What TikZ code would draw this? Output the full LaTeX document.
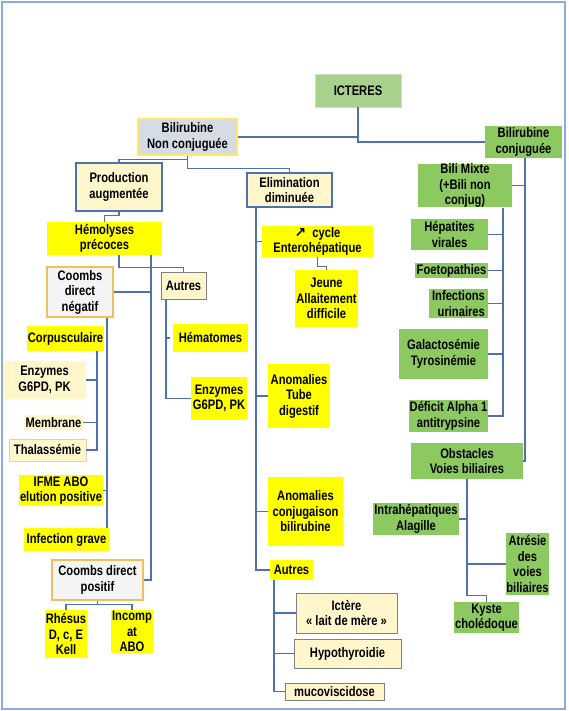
\documentclass[tikz,border=0pt]{standalone}
\usepackage{fontspec}
\setmainfont{Liberation Sans}[FakeStretch=0.81]
\newfontfamily\arrowfont{DejaVu Sans}
\usepackage{tikz}
\usetikzlibrary{calc}
\definecolor{linkblue}{RGB}{79,113,175}
\definecolor{framecol}{RGB}{143,170,220}
\definecolor{jaune}{RGB}{255,255,0}
\definecolor{creme}{RGB}{255,246,204}
\definecolor{vert}{RGB}{140,201,96}
\definecolor{vertclair}{RGB}{169,209,142}
\definecolor{grisbleu}{RGB}{214,220,229}
\definecolor{grisclair}{RGB}{244,244,244}
\definecolor{orbord}{RGB}{240,192,90}
\tikzset{
  every node/.style={font=\bfseries\fontsize{13.8}{15.5}\selectfont, align=center, inner sep=0pt},
  yellowbox/.style={fill=jaune},
  greenbox/.style={fill=vert},
  cremebox/.style={fill=creme},
  levelbox/.style={fill=creme, draw=linkblue, line width=1.2pt},
  greybox/.style={fill=creme, draw=gray, line width=1pt},
  coombsbox/.style={fill=grisclair, draw=orbord, line width=1.2pt},
  link/.style={draw=linkblue, line width=1.1pt}
}

\begin{document}
\begin{tikzpicture}[x=1pt,y=-1pt]
    \useasboundingbox (0,0) rectangle (568,711);
    \draw[framecol,line width=1.5pt] (2,2) rectangle (565,709);

    % top
    \node[fill=vertclair, draw=vertclair!60, minimum width=86pt, minimum height=33pt] (ict) at (358,90.5) {ICTERES};
    \node[fill=grisbleu, draw=jaune!70!orange!60, line width=1.2pt, minimum width=99pt, minimum height=36pt] (nc) at (187.5,137) {Bilirubine\\Non conjuguée};
    \node[greenbox, minimum width=77pt, minimum height=32pt] (bc) at (523.5,142) {Bilirubine\\conjuguée};

    % bilirubine non conjuguee
    \node[levelbox, minimum width=86pt, minimum height=48pt] (prod) at (119,187) {Production\\augmentée};
    \node[levelbox, minimum width=85pt, minimum height=34pt] (elim) at (289.5,190) {Elimination\\diminuée};
    \node[yellowbox, minimum width=115pt, minimum height=33pt] (hem) at (104.5,238.5) {Hémolyses\\précoces};
    \node[coombsbox, minimum width=66pt, minimum height=50pt] (cdn) at (80,292) {Coombs\\direct\\négatif};
    \node[greybox, minimum width=45pt, minimum height=27pt] (autg) at (183.5,285.5) {Autres};
    \node[yellowbox, minimum width=77pt, minimum height=25pt] (corp) at (65.5,338.5) {Corpusculaire};
    \node[cremebox, minimum width=83pt, minimum height=38pt] (enzg) at (44.5,380) {Enzymes\\G6PD, PK};
    \node[cremebox, minimum width=59pt, minimum height=15pt] (memb) at (53.5,422.5) {Membrane};
    \node[cremebox, draw=creme!70!gray, minimum width=77pt, minimum height=22pt] (thal) at (47.5,450) {Thalassémie};
    \node[yellowbox, minimum width=84pt, minimum height=31pt] (ifme) at (61,490.5) {IFME ABO\\elution positive};
    \node[yellowbox, minimum width=85pt, minimum height=23pt] (ig) at (66.5,539.5) {Infection grave};
    \node[coombsbox, minimum width=91pt, minimum height=40pt] (cdp) at (97.5,580) {Coombs direct\\positif};
    \node[yellowbox, minimum width=42pt, minimum height=48pt] (rh) at (66,634) {Rhésus\\D, c, E\\Kell};
    \node[yellowbox, minimum width=42pt, minimum height=43pt] (inc) at (132,631.5) {Incomp\\at\\ABO};
    \node[yellowbox, minimum width=75pt, minimum height=28pt] (hemat) at (210.5,338) {Hématomes};
    \node[yellowbox, minimum width=56pt, minimum height=43pt] (enzm) at (219,398.5) {Enzymes\\G6PD, PK};

    \node[yellowbox, minimum width=111pt, minimum height=31pt] (cyc) at (317.5,241.5) {{\arrowfont\char"2197}\ \ cycle\\Enterohépatique};
    \node[yellowbox, minimum width=63pt, minimum height=57pt] (jeune) at (326.5,298.5) {Jeune\\Allaitement\\difficile};
    \node[yellowbox, minimum width=62pt, minimum height=64pt] (atd) at (299,396) {Anomalies\\Tube\\digestif};
    \node[yellowbox, minimum width=75pt, minimum height=69pt] (acb) at (305.5,511.5) {Anomalies\\conjugaison\\bilirubine};
    \node[yellowbox, minimum width=43pt, minimum height=20pt] (autd) at (291.5,570) {Autres};
    \node[greybox, minimum width=101pt, minimum height=40pt] (lait) at (346.5,613) {Ictère\\« lait de mère »};
    \node[greybox, minimum width=107pt, minimum height=29pt] (hypo) at (347.5,653.5) {Hypothyroidie};
    \node[greybox, minimum width=99pt, minimum height=17pt] (muco) at (334.5,691.5) {mucoviscidose};

    % bilirubine conjuguee
    \node[greenbox, minimum width=94pt, minimum height=43pt] (bm) at (465,185.5) {Bili Mixte\\(+Bili non\\conjug)};
    \node[greenbox, minimum width=77pt, minimum height=31pt] (hep) at (449.5,234.5) {Hépatites\\virales};
    \node[greenbox, minimum width=73pt, minimum height=15pt] (foet) at (451.5,270.5) {Foetopathies};
    \node[greenbox, minimum width=59pt, minimum height=29pt, align=right] (inf) at (458.5,303.5) {Infections\\urinaires};
    \node[greenbox, minimum width=89pt, minimum height=50pt] (gal) at (443.5,354) {Galactosémie\\Tyrosinémie};
    \node[greenbox, minimum width=79pt, minimum height=32pt] (def) at (448.5,416) {Déficit Alpha 1\\antitrypsine};
    \node[greenbox, minimum width=112pt, minimum height=36pt] (obs) at (467,461) {Obstacles\\Voies biliaires};
    \node[greenbox, minimum width=86pt, minimum height=32pt] (intra) at (416,519) {Intrahépatiques\\Alagille};
    \node[greenbox, minimum width=43pt, minimum height=62pt] (atr) at (527.5,564) {Atrésie\\des\\voies\\biliaires};
    \node[greenbox, minimum width=65pt, minimum height=31pt] (kys) at (486.5,617.5) {Kyste\\cholédoque};

    % connectors
    \draw[link] (ict.south) |- (nc.east);
    \draw[link] (ict.south) |- (bc.west);
    \draw[link] (nc.south) -- ++(0,4) -| (prod.north);
    \draw[link] (nc.south) -- ++(0,13) -| (elim.north);
    \draw[link] (prod.south) -- ++(0,4) -| (hem.north);
    \draw[link] ([xshift=14.5pt]hem.south) -- ++(0,12) -| (autg.north);
    \draw[link] ([xshift=46.5pt]hem.south) |- (cdn.east);
    \draw[link] ([xshift=46.5pt]hem.south) |- (cdp.east);
    \draw[link] ([xshift=27pt]cdn.south) |- (ifme.east);
    \draw[link] ([xshift=27pt]cdn.south) -- ([xshift=27pt]cdn.south |- ig.north);
    \draw[link] ([xshift=31.5pt]corp.south) |- (enzg.east);
    \draw[link] ([xshift=31.5pt]corp.south) |- (memb.east);
    \draw[link] ([xshift=31.5pt]corp.south) |- (thal.east);
    \draw[link] ([xshift=-17.5pt]autg.south) |- ([xshift=-3pt]hemat.west);
    \draw[link] ([xshift=-17.5pt]autg.south) |- (enzm.west);
    \draw[link] (cdp.south) -- ++(0,4) -| (rh.north);
    \draw[link] (cdp.south) -- ++(0,4) -| (inc.north);

    \draw[link] ([xshift=-33.5pt]elim.south) |- (cyc.west);
    \draw[link] ([xshift=-33.5pt]elim.south) |- (atd.west);
    \draw[link] ([xshift=-33.5pt]elim.south) |- (acb.west);
    \draw[link] ([xshift=-33.5pt]elim.south) |- (autd.west);
    \draw[link] (cyc.south) -- ++(0,9) -| (jeune.north);
    \draw[link] ([xshift=-17.5pt]autd.south) |- (lait.west);
    \draw[link] ([xshift=-17.5pt]autd.south) |- (hypo.west);
    \draw[link] ([xshift=-17.5pt]autd.south) |- (muco.west);

    \draw[link] ([xshift=1.5pt]bc.south) |- (bm.east);
    \draw[link] ([xshift=1.5pt]bc.south) |- (obs.east);
    \foreach \n in {hep,foet,inf,gal,def}
      \draw[link] ([xshift=38pt]bm.south) |- (\n.east);
    \draw[link] (obs.south) |- (intra.east);
    \draw[link] (obs.south) |- (atr.west);
    \draw[link] (obs.south) -- ++(0,116) -| (kys.north);
\end{tikzpicture}
\end{document}
